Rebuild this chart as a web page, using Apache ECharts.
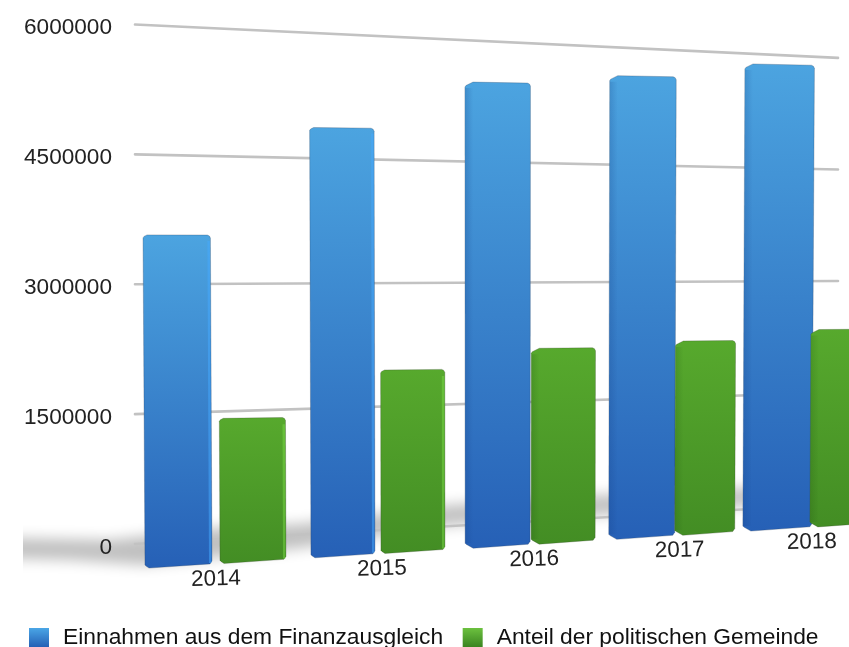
<!DOCTYPE html>
<html>
<head>
<meta charset="utf-8">
<style>html,body{margin:0;padding:0;background:#fff}#c{width:849px;height:647px}</style>
<script src="https://cdn.jsdelivr.net/npm/echarts@6/dist/echarts.min.js"></script>
</head>
<body>
<div id="c"></div>
<script>
// Finanzausgleich: Einnahmen und Gemeindeanteil je Jahr
const categories = ['2014', '2015', '2016', '2017', '2018'];
const einnahmen = [3522000, 4711000, 5275000, 5415000, 5624000];
const anteil = [1550000, 2031000, 2241000, 2295000, 2405000];
const ticks = [0, 1500000, 3000000, 4500000, 6000000];
const seriesNames = ['Einnahmen aus dem Finanzausgleich', 'Anteil der politischen Gemeinde'];

// Per-year bar geometry of the tilted scene, in pixels
const blueWidth = [67, 64, 65, 66, 69];
const greenWidth = [66, 64, 64, 60, 66];
const greenOffset = [75, 70, 66, 66, 67];
const labelOffset = [71, 71, 69, 71, 69];

const FONT = '"Liberation Sans", Helvetica, Arial, sans-serif';
const GRID = { left: 135, right: 11, top: 24.5, bottom: 103 };
const SPAN = 703;
const DEPTH = 1.095;

function vGrad(top, bottom) {
  return { type: 'linear', x: 0, y: 0, x2: 0, y2: 1, colorStops: [{ offset: 0, color: top }, { offset: 1, color: bottom }] };
}
function hGrad(left, right) {
  return { type: 'linear', x: 0, y: 0, x2: 1, y2: 0, colorStops: [{ offset: 0, color: left }, { offset: 1, color: right }] };
}
const BLUE = { grad: vGrad('#4CA4E0', '#2660B6'), light: 'rgba(70,170,255,0.5)', dark: 'rgba(20,60,130,0.22)', clear: 'rgba(20,60,130,0)', edge: 'rgba(40,60,90,0.4)' };
const GREEN = { grad: vGrad('#57A92D', '#438D24'), light: 'rgba(120,215,70,0.5)', dark: 'rgba(30,80,15,0.2)', clear: 'rgba(30,80,15,0)', edge: 'rgba(50,70,40,0.4)' };

// Wall plane: value lines converge towards the right
function wallY(sx, py) {
  const u = (sx - GRID.left) / SPAN;
  return 544 - 40 * u + (py - 544) * (1 - 0.1413 * u);
}
// Front plane of the bars: same projection, scaled about the horizon line
function frontY(sx, py, pyHorizon) {
  const h = wallY(sx, pyHorizon);
  return h + (wallY(sx, py) - h) * DEPTH;
}
// Years move closer together with distance
function sceneX(px, rect) {
  const band = rect.width / categories.length;
  const t = (px - rect.x - band / 2) / band;
  return rect.x + 10 + 172.3 * t / (1 + 0.0382 * t);
}
function lean(sx, sy, yBottom) {
  return sx + (0.006 - 0.0000174 * (sx - 145)) * (sy - yBottom);
}

function barItem(palette, widths, offsets) {
  return function (params, api) {
    const i = api.value(0);
    const rect = params.coordSys;
    const left = sceneX(api.coord([i, 0])[0], rect) + (offsets ? offsets[i] : 0);
    const right = left + widths[i];
    const py0 = api.coord([i, 0])[1];
    const pyV = api.coord([i, api.value(1)])[1];
    const pyH = api.coord([i, 3000000])[1];
    const bl = frontY(left, py0, pyH), br = frontY(right, py0, pyH);
    const rawL = frontY(left, pyV, pyH), rawR = frontY(right, pyV, pyH);
    const mid = (rawL + rawR) / 2;
    const tl = mid + (rawL - mid) * 0.4, tr = mid + (rawR - mid) * 0.4;
    const P = (x, y, yb) => [lean(x, y, yb), y];
    // Corners are cut larger on the far bars, where the side face shows
    const far = i >= 2;
    const cx = far ? 8 : 4, cy = far ? 5 : 3;
    const outline = [
      P(left + cx, tl, bl), P(right - 3, tr, br), P(right - 1, tr + 1, br), P(right, tr + 3, br),
      P(right, br - 3, br), P(right - 2, br, br), P(left + cx, bl, bl), P(left + 1, bl - cy + 1, bl),
      P(left, bl - cy, bl), P(left, tl + cy, bl), P(left + 1, tl + cy - 1.5, bl)
    ];
    const kids = [{
      type: 'polygon', shape: { points: outline },
      style: { fill: palette.grad, stroke: palette.edge, lineWidth: 0.7 }
    }];
    const side = far
      ? { a: left + 0.5, b: left + 8, fill: hGrad(palette.dark, palette.clear) }
      : { a: right - 3, b: right - 0.5, fill: palette.light };
    kids.push({
      type: 'polygon',
      shape: { points: [P(side.a, tl + 6, bl), P(side.b, tl + 6, bl), P(side.b, bl - 5, bl), P(side.a, bl - 5, bl)] },
      style: { fill: side.fill }
    });
    return { type: 'group', children: kids };
  };
}

function gridLineItem(params, api) {
  const rect = params.coordSys;
  const py = api.coord([0, api.value(0)])[1];
  const x0 = rect.x, x1 = rect.x + rect.width;
  return {
    type: 'line',
    shape: { x1: x0, y1: wallY(x0, py), x2: x1, y2: wallY(x1, py) },
    style: { stroke: '#c2c2c2', lineWidth: 2.6, lineCap: 'round' }
  };
}

function yearLabelItem(params, api) {
  const i = api.value(0);
  const rect = params.coordSys;
  const x = sceneX(api.coord([i, 0])[0], rect) + labelOffset[i];
  const y = frontY(x, api.coord([i, 0])[1], api.coord([i, 3000000])[1]) + 15.5;
  return {
    type: 'text', x: x, y: y, rotation: 0.025,
    style: { text: categories[i], font: '22.4px ' + FONT, fill: '#222', textAlign: 'center', textVerticalAlign: 'middle' }
  };
}

// Soft floor shadow behind the bars: the outline sits off-canvas, only its blurred shadow lands on the floor
const SHADOW_LIFT = 1000;
const floorShadow = [[0, 538], [110, 540], [215, 528], [300, 524], [450, 505], [600, 495], [760, 487], [880, 480],
                     [880, 498], [760, 505], [600, 515], [450, 525], [300, 548], [145, 565], [70, 560], [0, 558]];
function shadowItem() {
  return {
    type: 'group',
    clipPath: { type: 'rect', shape: { x: 23, y: 440, width: 826, height: 160 } },
    children: [{
      type: 'polygon', shape: { points: floorShadow.map(p => [p[0], p[1] - SHADOW_LIFT]) },
      style: { fill: '#aaa', shadowBlur: 14, shadowColor: '#c0c0c0', shadowOffsetY: SHADOW_LIFT }
    }]
  };
}

const chart = echarts.init(document.getElementById('c'), null, { renderer: 'canvas' });
chart.setOption({
  animation: false,
  backgroundColor: '#fff',
  grid: GRID,
  legend: {
    left: 29, top: 626, padding: 0, itemWidth: 20, itemHeight: 19, itemGap: 19.5, icon: 'rect',
    textStyle: { fontFamily: FONT, fontSize: 22.8, color: '#111', padding: [0, 0, 0, 9] },
    data: [
      { name: seriesNames[0], itemStyle: { color: vGrad('#4AA6E6', '#2460B5') } },
      { name: seriesNames[1], itemStyle: { color: vGrad('#6CC13F', '#3A8420') } }
    ]
  },
  xAxis: { type: 'category', data: categories, axisLine: { show: false }, axisTick: { show: false }, axisLabel: { show: false }, splitLine: { show: false } },
  yAxis: {
    type: 'value', min: 0, max: 6000000, interval: 1500000, z: 20,
    axisLine: { show: false }, axisTick: { show: false }, splitLine: { show: false },
    axisLabel: { margin: 23, fontFamily: FONT, fontSize: 22.6, color: '#222', verticalAlign: 'top', lineHeight: 7, formatter: v => String(v) }
  },
  series: [
    { type: 'custom', silent: true, clip: false, renderItem: shadowItem, data: [[0, 0]] },
    { type: 'custom', silent: true, clip: false, renderItem: gridLineItem, data: ticks.map(v => [v]), encode: { y: 0 } },
    { name: seriesNames[0], type: 'custom', clip: false, renderItem: barItem(BLUE, blueWidth, null),
      itemStyle: { color: '#3A80CE' }, encode: { x: 0, y: 1 }, data: categories.map((c, i) => [i, einnahmen[i]]) },
    { name: seriesNames[1], type: 'custom', clip: false, renderItem: barItem(GREEN, greenWidth, greenOffset),
      itemStyle: { color: '#4E9E29' }, encode: { x: 0, y: 1 }, data: categories.map((c, i) => [i, anteil[i]]) },
    { type: 'custom', silent: true, clip: false, renderItem: yearLabelItem, encode: { x: 0 }, data: categories.map((c, i) => [i]) }
  ]
});
</script>
</body>
</html>
